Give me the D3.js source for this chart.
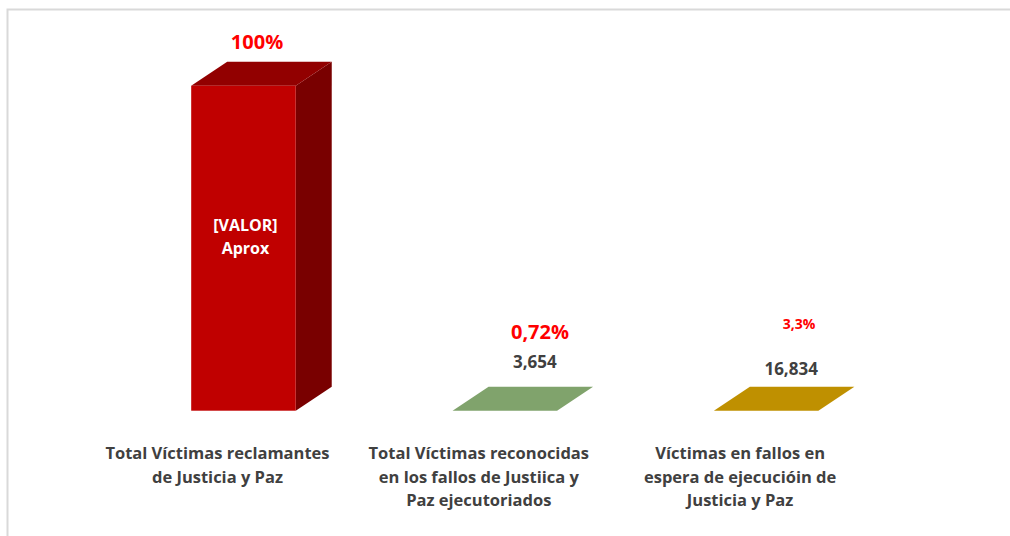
<!DOCTYPE html>
<html><head><meta charset="utf-8">
<script src="https://cdn.jsdelivr.net/npm/d3@7"></script>
<style>html,body{margin:0;padding:0;background:#fff;}svg{display:block;}</style>
</head><body>
<svg id="c" width="1010" height="536"></svg>
<script>
const categories = [
  ["Total Víctimas reclamantes", "de Justicia y Paz"],
  ["Total Víctimas reconocidas", "en los fallos de Justiica y", "Paz ejecutoriados"],
  ["Víctimas en fallos en", "espera de ejecucióin de", "Justicia y Paz"]
];
const values = [507500, 3654, 16834];
const valueLabels = [["[VALOR]", "Aprox"], ["3,654"], ["16,834"]];
const percentLabels = ["100%", "0,72%", "3,3%"];
const frontColors = ["#C00000", "#80A36C", "#BF9000"];
const topColors = ["#920000", "#80A36C", "#BF9000"];
const sideColors = ["#790000", "#5F7D50", "#8F6C00"];
const axisMin = 20000;

const svg = d3.select("#c");
svg.append("rect").attr("x", 7.5).attr("y", 9.5).attr("width", 1020).attr("height", 540)
  .attr("fill", "#fff").attr("stroke", "#D9D9D9").attr("stroke-width", 2);

const floorY = 410.7, topY = 85.7;
const dx = 36, dy = -24;
const x = d3.scaleBand().domain(d3.range(values.length)).range([112.8, 896.8]).paddingInner(0.6).paddingOuter(0.3);
const y = d3.scaleLinear().domain([axisMin, d3.max(values)]).range([floorY, topY]).clamp(true);

const g = svg.append("g");
values.forEach((v, i) => {
  const x0 = x(i), x1 = x(i) + x.bandwidth();
  const yt = y(v);
  const gg = g.append("g");
  gg.append("path").attr("d", `M${x1},${yt}L${x1+dx},${yt+dy}L${x1+dx},${floorY+dy}L${x1},${floorY}Z`)
    .attr("fill", sideColors[i]);
  gg.append("path").attr("d", `M${x0},${yt}L${x0+dx},${yt+dy}L${x1+dx},${yt+dy}L${x1},${yt}Z`)
    .attr("fill", topColors[i]);
  if (floorY - yt > 0.5)
    gg.append("rect").attr("x", x0).attr("y", yt).attr("width", x1 - x0).attr("height", floorY - yt)
      .attr("fill", frontColors[i]);
});

const font = "'Open Sans', 'Liberation Sans', sans-serif";
values.forEach((v, i) => {
  const cx = x(i) + x.bandwidth() / 2;
  if (i === 0) {
    const t = svg.append("text").attr("text-anchor", "middle").attr("font-family", font)
      .attr("font-weight", "bold").attr("font-size", 16).attr("fill", "#fff");
    valueLabels[i].forEach((s, k) => t.append("tspan").attr("x", cx + 2).attr("y", 231 + k * 23).text(s));
  } else {
    svg.append("text").attr("x", cx + dx / 2 + (i === 2 ? 7 : 12)).attr("y", (i === 1 ? 368 : 375))
      .attr("text-anchor", "middle").attr("font-family", font).attr("font-weight", "bold")
      .attr("font-size", 17).attr("fill", "#404040").text(valueLabels[i][0]);
  }
});
const pctPos = [[257, 49, 20], [540, 339, 20], [799, 329, 14]];
percentLabels.forEach((p, i) => {
  svg.append("text").attr("x", pctPos[i][0]).attr("y", pctPos[i][1]).attr("text-anchor", "middle")
    .attr("font-family", font).attr("font-weight", "bold").attr("font-size", pctPos[i][2])
    .attr("fill", "#FF0000").text(p);
});
categories.forEach((lines, i) => {
  const cx = x(i) + x.bandwidth() / 2 - 26;
  const t = svg.append("text").attr("text-anchor", "middle").attr("font-family", font)
    .attr("font-weight", "bold").attr("font-size", 16.5).attr("fill", "#404040");
  lines.forEach((s, k) => t.append("tspan").attr("x", cx).attr("y", 459 + k * 23.5).text(s));
});
</script>
</body></html>
